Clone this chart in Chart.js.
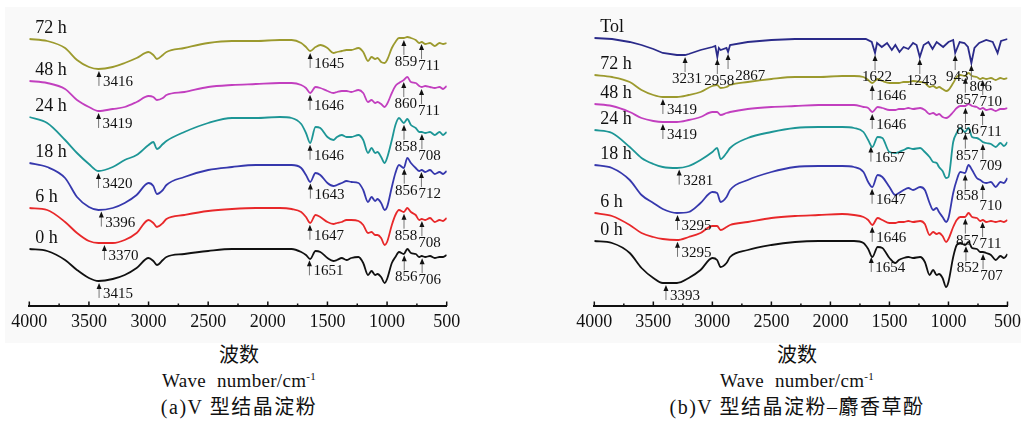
<!DOCTYPE html>
<html>
<head>
<meta charset="utf-8">
<script src="https://cdn.jsdelivr.net/npm/chart.js@4.4.1/dist/chart.umd.min.js"></script>
<style>
body{margin:0;background:#fff;width:1026px;height:424px;position:relative;overflow:hidden;font-family:'Liberation Serif','Noto Sans CJK SC',serif;color:#111}
.bg{position:absolute;left:5px;top:7px;width:1016px;height:336px;background:#f9f9f9}
.box{position:absolute;top:0;width:513px;height:343px}
.cap{position:absolute;width:420px;text-align:center;font-size:20px;line-height:20px;white-space:nowrap}
.wn{font-size:19px;word-spacing:6px;letter-spacing:.3px}
.sub{letter-spacing:1.5px}
sup{font-size:11px;line-height:0}
</style>
</head>
<body>
<div class="bg"></div>
<div class="box" style="left:0"><canvas id="chartA"></canvas></div>
<div class="box" style="left:513px"><canvas id="chartB"></canvas></div>

<div class="cap" style="left:29px;top:345px">波数</div>
<div class="cap wn" style="left:29px;top:371px">Wave number/cm<sup>-1</sup></div>
<div class="cap sub" style="left:29px;top:397px">(a)V 型结晶淀粉</div>
<div class="cap" style="left:587px;top:345px">波数</div>
<div class="cap wn" style="left:587px;top:371px">Wave number/cm<sup>-1</sup></div>
<div class="cap sub" style="left:587px;top:397px">(b)V 型结晶淀粉–麝香草酚</div>

<script>
// wave numbers (cm-1) shared by the starch spectra
const waves=[4000,3850,3700,3600,3500,3420,3300,3200,3100,3000,2960,2930,2880,2850,2700,2500,2300,2100,1900,1800,
  1720,1680,1645,1600,1560,1500,1450,1420,1380,1340,1300,1240,1200,1160,1130,1100,1080,1050,1020,1000,
  960,930,900,860,830,800,760,730,710,680,640,600,560,530,500];

// (a) stacked transmittance, a.u.
const a72=[267,265,258,246,239,237,239,243,248,254,251,247,251,254,258,263,265,265,266,266,263,259,255,259,261,258,253,254,255,256,256,258,254,245,249,247,248,244,243,246,258,264,268,268,269,268,266,263,264,262,263,260,263,262,263];
const a48=[225,223,217,206,199,195,197,199,204,210,209,206,208,211,214,219,221,222,223,223,221,218,213,219,218,215,213,214,215,215,214,216,213,204,206,203,204,202,199,202,213,220,223,226,229,224,223,220,219,220,219,218,219,217,220];
const a24=[189,183,166,153,142,135,139,146,151,161,164,157,162,165,174,183,188,188,189,188,182,173,163,179,178,169,166,169,171,169,169,171,166,153,158,153,154,149,143,148,166,181,188,183,187,181,178,174,174,173,174,171,174,171,174];
const a18=[143,139,128,109,99,96,98,103,111,123,120,112,116,121,129,136,139,141,141,141,138,131,124,133,131,123,120,121,123,125,124,123,116,104,109,105,107,103,96,99,119,133,141,138,148,143,138,135,136,134,136,132,134,132,135];
const a6=[98,96,84,73,65,63,63,66,73,86,83,79,83,87,91,95,97,98,98,97,94,89,83,91,89,84,82,83,84,86,86,85,81,73,74,71,71,68,61,64,81,91,96,94,98,94,91,86,87,86,88,84,86,85,88];
const a0=[57,55,46,36,28,25,27,31,38,48,45,41,46,49,52,55,57,57,57,57,54,51,47,55,54,48,45,46,48,46,48,49,43,31,35,31,32,29,23,27,43,49,54,52,57,53,52,49,50,49,50,48,49,49,51];

// (b) stacked transmittance, a.u.
const tolWaves=[4000,3850,3700,3600,3500,3420,3300,3231,3200,3100,3000,2975,2958,2945,2930,2880,2867,2850,2700,2500,
  2300,2100,1900,1800,1700,1650,1622,1605,1565,1520,1480,1450,1415,1380,1340,1300,1270,1243,1210,1170,
  1135,1100,1045,1000,960,943,905,865,835,806,780,740,680,625,584,555,500];
const bTol=[268,267,264,261,257,253,251,251,252,256,259,260,249,258,256,258,254,261,264,266,267,267,267,267,267,264,253,263,259,263,256,261,254,259,257,263,261,249,261,264,257,264,259,264,266,253,264,263,259,243,258,263,266,264,253,265,267];
const b72=[231,229,224,216,211,209,209,211,214,220,221,218,219,221,224,227,229,229,230,230,229,226,223,227,225,223,223,223,224,224,225,224,223,219,220,218,219,217,215,216,223,229,231,230,233,230,229,227,228,227,228,226,228,227,228];
const b48=[202,200,194,188,185,184,184,186,189,194,194,191,193,194,197,199,200,201,201,201,199,198,194,199,198,196,196,197,197,198,197,198,196,192,193,191,192,189,188,189,194,198,200,200,202,200,199,197,198,196,197,195,197,197,198];
const b24=[176,173,159,148,142,139,138,140,146,154,158,147,153,158,168,174,178,179,179,178,174,166,159,169,168,154,153,154,156,158,157,158,154,149,144,143,139,135,128,129,164,173,178,174,178,169,168,166,164,163,162,159,163,160,164];
const b18=[141,138,126,111,103,97,93,94,103,114,113,104,109,116,126,134,139,140,140,139,134,124,119,131,129,119,111,113,116,118,116,119,116,103,96,98,94,89,84,88,113,126,134,133,141,136,128,126,124,123,124,119,124,123,128];
const b6=[93,90,81,73,69,67,66,69,73,80,80,76,79,81,84,88,90,91,92,91,89,86,81,88,86,83,83,84,84,85,84,85,82,71,74,72,73,70,64,67,79,86,89,89,93,89,88,85,86,84,85,84,85,84,86];
const b0=[65,63,53,38,28,23,23,28,36,48,46,39,43,49,56,61,64,65,65,65,63,57,49,59,58,48,43,46,48,49,48,49,44,31,36,31,32,28,19,24,49,61,63,61,64,58,57,54,54,53,51,46,50,48,52];

// labelled peaks
const pkA72=[3416,1645,859,711], pkA48=[3419,1646,860,711], pkA24=[3420,1646,858,708];
const pkA18=[3396,1643,856,712], pkA6=[3370,1647,858,708], pkA0=[3415,1651,856,706];
const pkTol=[3231,2958,2867,1622,1243,943,806];
const pkB72=[3419,1646,857,710], pkB48=[3419,1646,856,711], pkB24=[3281,1657,857,709];
const pkB18=[3295,1647,858,710], pkB6=[3295,1646,857,711], pkB0=[3393,1654,852,707];

const C={h72:'#9c9a2e',h48:'#c23fbf',h24:'#1d9696',h18:'#3638ad',h6:'#e8282a',h0:'#111111',tol:'#2b2b8a'};

function series(label,color,xs,vals,peaks,extra){
  return Object.assign({label,borderColor:color,borderWidth:1.8,pointRadius:0,fill:false,
    cubicInterpolationMode:'monotone',peaks,data:xs.map((w,i)=>({x:w,y:vals[i]}))},extra||{});
}

function valueAt(data,w){
  for(let i=0;i<data.length-1;i++){
    const p=data[i],q=data[i+1];
    if(w<=p.x&&w>=q.x){const t=(p.x-w)/(p.x-q.x);return p.y+(q.y-p.y)*t}
  }
  return data[data.length-1].y;
}

const decor={
  id:'decor',
  afterDatasetsDraw(chart){
    const {ctx,chartArea:a,scales:{x,y}}=chart;
    ctx.save();
    ctx.strokeStyle='#111';ctx.lineWidth=1.5;
    for(let v=500;v<=4000;v+=250){
      const px=x.getPixelForValue(v),len=v%500?2.5:4.5;
      ctx.beginPath();ctx.moveTo(px,a.bottom);ctx.lineTo(px,a.bottom-len);ctx.stroke();
    }
    chart.data.datasets.forEach(ds=>{
      const y0=y.getPixelForValue(ds.data[0].y);
      ctx.fillStyle='#111';ctx.textAlign='left';ctx.textBaseline='middle';
      ctx.font='18px "Liberation Serif"';
      ctx.fillText(ds.label,a.left+6,y0-11);
      ctx.font='15px "Liberation Serif"';
      let prevRight=-1e9;
      ds.peaks.forEach(w=>{
        const px=x.getPixelForValue(w),py=y.getPixelForValue(valueAt(ds.data,w))+2;
        ctx.strokeStyle='#777';ctx.lineWidth=1;
        ctx.beginPath();ctx.moveTo(px,py+4);ctx.lineTo(px,py+15);ctx.stroke();
        ctx.fillStyle='#111';
        ctx.beginPath();ctx.moveTo(px,py);ctx.lineTo(px-2.5,py+6);ctx.lineTo(px+2.5,py+6);ctx.closePath();ctx.fill();
        const t=String(w),tw=ctx.measureText(t).width;
        let lx,ly;
        if(ds.belowAll||w<1000){lx=Math.max(px+2-tw/2,prevRight+1);ly=py+22}
        else{lx=px+4;ly=py+11}
        ctx.fillText(t,lx,ly);
        prevRight=lx+tw;
      });
    });
    ctx.restore();
  }
};

function makeChart(id,datasets,padL,padR){
  return new Chart(document.getElementById(id),{
    type:'line',
    data:{datasets},
    options:{
      responsive:true,maintainAspectRatio:false,animation:false,
      layout:{padding:{left:padL,right:padR,top:0,bottom:0}},
      plugins:{legend:{display:false},tooltip:{enabled:false}},
      scales:{
        x:{type:'linear',reverse:true,min:500,max:4000,
          afterFit:s=>{s.height=37},
          ticks:{stepSize:500,padding:5,color:'#111',maxRotation:0,autoSkip:false,
            font:{family:'Liberation Serif',size:18},callback:v=>String(v)},
          grid:{display:false,drawTicks:false},
          border:{display:true,color:'#111',width:2}},
        y:{display:false,min:0,max:306}
      }
    },
    plugins:[decor]
  });
}

makeChart('chartA',[
  series('72 h',C.h72,waves,a72,pkA72),
  series('48 h',C.h48,waves,a48,pkA48),
  series('24 h',C.h24,waves,a24,pkA24),
  series('18 h',C.h18,waves,a18,pkA18),
  series('6 h',C.h6,waves,a6,pkA6),
  series('0 h',C.h0,waves,a0,pkA0)
],29.3,66.3);

makeChart('chartB',[
  series('Tol',C.tol,tolWaves,bTol,pkTol,{belowAll:true,cubicInterpolationMode:'default',tension:0}),
  series('72 h',C.h72,waves,b72,pkB72),
  series('48 h',C.h48,waves,b48,pkB48),
  series('24 h',C.h24,waves,b24,pkB24),
  series('18 h',C.h18,waves,b18,pkB18),
  series('6 h',C.h6,waves,b6,pkB6),
  series('0 h',C.h0,waves,b0,pkB0)
],81.3,14.3);
</script>
</body>
</html>
